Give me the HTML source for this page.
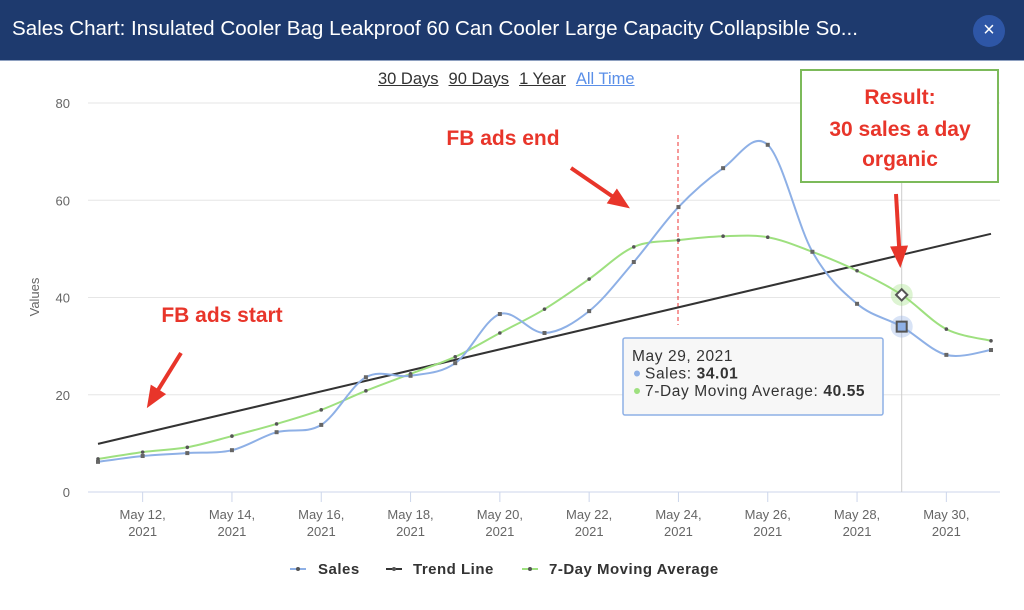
<!DOCTYPE html>
<html><head><meta charset="utf-8"><style>
body{margin:0;width:1024px;height:610px;background:#fff;overflow:hidden;font-family:"Liberation Sans",sans-serif}
#hdr{position:absolute;left:0;top:0;width:1024px;height:60px;background:#1e3a6e;border-bottom:1px solid #8ea0c0}
#title{position:absolute;left:12px;top:17px;color:#fff;font-size:20.6px;white-space:nowrap}
#close{position:absolute;left:973px;top:15px;width:32px;height:32px;border-radius:50%;background:#2e56a6;color:#fff;font-size:20px;text-align:center;line-height:31px}
#range{position:absolute;top:70px;left:378px;font-size:16.5px;color:#333;white-space:nowrap}
#range span{text-decoration:underline;margin-right:10px}
</style></head><body>
<div id="hdr"><div id="title">Sales Chart: Insulated Cooler Bag Leakproof 60 Can Cooler Large Capacity Collapsible So...</div><div id="close">×</div></div>
<div id="range"><span>30 Days</span><span>90 Days</span><span>1 Year</span><span style="color:#5a8fe8">All Time</span></div>
<svg id="c" width="1024" height="610" style="position:absolute;left:0;top:0"></svg>
<script>
const days=['May 11','May 12','May 13','May 14','May 15','May 16','May 17','May 18','May 19','May 20','May 21','May 22','May 23','May 24','May 25','May 26','May 27','May 28','May 29','May 30','May 31'];
const sales=[6.2,7.4,8.0,8.6,12.3,13.8,23.6,23.9,26.5,36.6,32.7,37.2,47.3,58.6,66.6,71.4,49.4,38.7,34.01,28.2,29.2];
const movingAvg=[6.8,8.2,9.2,11.5,14.0,16.9,20.8,24.3,27.8,32.7,37.6,43.8,50.4,51.8,52.6,52.4,49.4,45.5,40.55,33.5,31.1];
const trend=[9.9,53.1];
const yTicks=[0,20,40,60,80];
const xTickIdx=[1,3,5,7,9,11,13,15,17,19];
const svg=document.getElementById('c');const NS='http://www.w3.org/2000/svg';
const X=i=>98+i*44.65, Y=v=>492-v*4.8625;
function el(t,a,p){const e=document.createElementNS(NS,t);for(const k in a)e.setAttribute(k,a[k]);(p||svg).appendChild(e);return e;}
yTicks.forEach(v=>{const g=el('line',{x1:88,x2:1000,y1:Y(v),y2:Y(v),stroke:v?'#e6e6e6':'#ccd6eb'});

const t=el('text',{x:70,y:Y(v)+5,'text-anchor':'end','font-size':13,fill:'#666'});t.textContent=v;
});
const yt=el('text',{transform:'translate(39,297) rotate(-90)','text-anchor':'middle','font-size':13,fill:'#666'});yt.textContent='Values';

xTickIdx.forEach(i=>{el('line',{x1:X(i),x2:X(i),y1:492,y2:502,stroke:'#ccd6eb'});
const t=el('text',{x:X(i),y:519,'text-anchor':'middle','font-size':13,fill:'#666'});t.textContent=days[i]+',';

const t2=el('text',{x:X(i),y:536,'text-anchor':'middle','font-size':13,fill:'#666'});t2.textContent='2021';});
el('line',{x1:X(18),x2:X(18),y1:180,y2:492,stroke:'#ccc'});
el('line',{x1:678,x2:678,y1:135,y2:325,stroke:'#e33','stroke-dasharray':'4,3'});
function smooth(vals){let p=vals.map((v,i)=>[X(i),Y(v)]);let d='M'+p[0];for(let i=0;i<p.length-1;i++){const a=p[i-1]||p[i],b=p[i],c=p[i+1],e=p[i+2]||c;
d+=`C${b[0]+(c[0]-a[0])/6},${b[1]+(c[1]-a[1])/6} ${c[0]-(e[0]-b[0])/6},${c[1]-(e[1]-b[1])/6} ${c[0]},${c[1]}`;}return d;}
const tl=el('line',{x1:X(0),y1:Y(trend[0]),x2:X(20),y2:Y(trend[1]),stroke:'#333','stroke-width':2});

const ma=el('path',{d:smooth(movingAvg),fill:'none',stroke:'#9ee07f','stroke-width':2});

const sl=el('path',{d:smooth(sales),fill:'none',stroke:'#8eb0e6','stroke-width':2});

movingAvg.forEach((v,i)=>{const c=el('circle',{cx:X(i),cy:Y(v),r:1.8,fill:'#555'});
});
sales.forEach((v,i)=>{const c=el('rect',{x:X(i)-2,y:Y(v)-2,width:4,height:4,fill:'#666'});
});
el('circle',{cx:X(18),cy:Y(sales[18]),r:11,fill:'rgba(142,176,230,.35)'});
el('rect',{x:X(18)-5,y:Y(sales[18])-5,width:10,height:10,fill:'#8eb0e6',stroke:'#555','stroke-width':2});
el('circle',{cx:X(18),cy:Y(movingAvg[18]),r:11,fill:'rgba(158,224,127,.35)'});
el('rect',{x:X(18)-4,y:Y(movingAvg[18])-4,width:8,height:8,fill:'#fff',stroke:'#555','stroke-width':2,transform:`rotate(45 ${X(18)} ${Y(movingAvg[18])})`});
// tooltip
const tg=el('g',{});
el('rect',{x:623,y:338,width:260,height:77,fill:'#f7f7f7',stroke:'#8eb0e6','stroke-width':1.5,rx:2},tg);
const tt=[['May 29, 2021','',''],['Sales: ','34.01','#8eb0e6'],['7-Day Moving Average: ','40.55','#9ee07f']];
tt.forEach((r,k)=>{const t=el('text',{x:k?645:632,y:361+k*17.5,'font-size':15.5,'letter-spacing':0.6,fill:'#333'},tg);t.textContent=r[0];
if(r[1]){const b=el('tspan',{'font-weight':'bold'},t);b.textContent=r[1];el('circle',{cx:637,cy:356+k*17.5,r:3,fill:r[2]},tg);}});
// annotations
function txt(x,y,s,sz,n){const t=el('text',{x:x,y:y,'text-anchor':'middle','font-size':sz,'font-weight':'bold',fill:'#e8352a'});t.textContent=s;}
txt(222,322,'FB ads start',21,'annotation-ads-start');txt(503,145,'FB ads end',21,'annotation-ads-end');
el('rect',{x:801,y:70,width:197,height:112,fill:'#fff',stroke:'#7cba5a','stroke-width':2});
txt(900,104,'Result:',21,'result-line1');txt(900,136,'30 sales a day',21,'result-line2');txt(900,166,'organic',21,'result-line3');
function arrow(x1,y1,x2,y2){el('line',{x1,y1,x2,y2,stroke:'#e8352a','stroke-width':4});const a=Math.atan2(y2-y1,x2-x1),L=16,W=9;
const bx=x2-L*Math.cos(a),by=y2-L*Math.sin(a);el('polygon',{points:`${x2+6*Math.cos(a)},${y2+6*Math.sin(a)} ${bx-W*Math.sin(a)},${by+W*Math.cos(a)} ${bx+W*Math.sin(a)},${by-W*Math.cos(a)}`,fill:'#e8352a'});}
arrow(181,353,150,403);arrow(571,168,625,205);arrow(896,194,900,262);
// legend
const lg=[['Sales','#8eb0e6',300,318],['Trend Line','#333',396,413],['7-Day Moving Average','#9ee07f',532,549]];
lg.forEach(r=>{el('line',{x1:r[2]-10,x2:r[2]+6,y1:569,y2:569,stroke:r[1],'stroke-width':2});el('circle',{cx:r[2]-2,cy:569,r:2,fill:'#555'});
const t=el('text',{x:r[3],y:574,'font-size':15,'font-weight':'bold','letter-spacing':0.5,fill:'#333'});t.textContent=r[0];
});
</script></body></html>
